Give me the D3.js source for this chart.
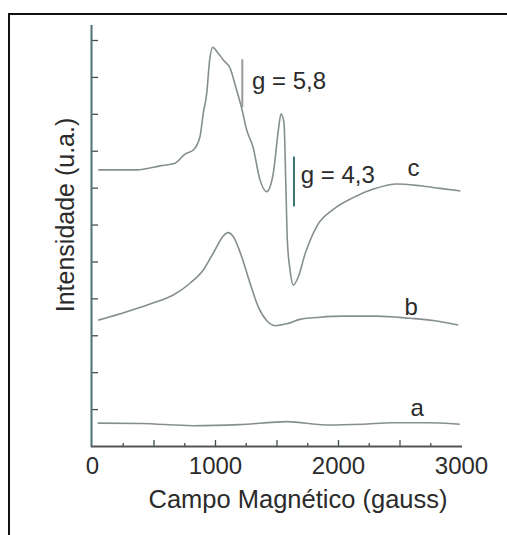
<!DOCTYPE html>
<html>
<head>
<meta charset="utf-8">
<script src="https://cdn.jsdelivr.net/npm/d3@7"></script>
<style>
  body { margin: 0; background: #fff; }
  text { font-family: "Liberation Sans", Arial, sans-serif; fill: #2b2b2b; }
</style>
</head>
<body>
<div id="chart"></div>
<script>
// spectra: [campo (gauss), intensidade (u.a.)]
var serieA = [[46,0.62],[400,0.61],[820,0.55],[1200,0.58],[1585,0.66],[1905,0.57],[2200,0.59],[2440,0.63],[2720,0.63],[2990,0.59]];
var serieB = [[51,3.41],[282,3.64],[472,3.85],[661,4.09],[797,4.41],[905,4.77],[1000,5.31],[1067,5.69],[1108,5.78],
  [1149,5.67],[1217,5.13],[1285,4.41],[1352,3.77],[1420,3.40],[1488,3.26],[1583,3.31],[1691,3.43],[1854,3.49],
  [2043,3.52],[2315,3.52],[2585,3.46],[2775,3.40],[2978,3.28]];
var serieC = [[51,7.48],[363,7.48],[553,7.59],[675,7.66],[756,7.91],[824,8.02],[878,8.38],[905,9.02],[933,9.56],
  [955,10.41],[981,10.80],[1024,10.65],[1067,10.46],[1122,10.24],[1171,9.70],[1217,9.15],[1258,8.56],[1309,8.10],
  [1366,7.21],[1420,6.89],[1474,7.39],[1515,8.56],[1537,9.00],[1561,8.75],[1577,6.94],[1588,5.58],[1610,4.77],
  [1637,4.36],[1678,4.59],[1732,5.20],[1829,5.96],[1962,6.41],[2124,6.73],[2287,6.96],[2477,7.10],[2667,7.05],
  [2829,6.98],[2995,6.91]];
var series = [
  {nome: "a", dados: serieA, rotulo: [2590, 0.8]},
  {nome: "b", dados: serieB, rotulo: [2540, 3.55]},
  {nome: "c", dados: serieC, rotulo: [2565, 7.31]}
];
// g-value markers: [campo, y0, y1], label position
var marcas = [
  {texto: "g = 5,8", linha: [1222, 9.18, 10.48], pos: [1301, 9.67], cor: "#999"},
  {texto: "g = 4,3", linha: [1642, 6.49, 7.84], pos: [1697, 7.12], cor: "#3b7373"}
];
var xTicksLabel = [0, 1000, 2000, 3000];

var W = 507, H = 535;
var svg = d3.select("#chart").append("svg")
  .attr("width", W).attr("height", H);

// outer frame (open to right/bottom as in the picture)
svg.append("rect")
  .attr("x", 9).attr("y", 14).attr("width", 520).attr("height", 540)
  .attr("fill", "none").attr("stroke", "#111").attr("stroke-width", 2);

var x = d3.scaleLinear().domain([0, 3000]).range([92, 461]);
var y = d3.scaleLinear().domain([0, 11]).range([446, 40]);

// x axis: minor/major ticks pointing inward, labels separately
svg.append("g").attr("transform", "translate(0,446)")
  .call(d3.axisBottom(x).tickValues(d3.range(250, 3000, 500)).tickSize(-3).tickFormat(""))
  .call(function(g) { g.select(".domain").remove(); });
svg.append("g").attr("transform", "translate(0,446)")
  .call(d3.axisBottom(x).tickValues(d3.range(500, 3000, 500)).tickSize(-6).tickFormat(""))
  .call(function(g) { g.select(".domain").remove(); });
svg.append("g").attr("transform", "translate(0,446)")
  .call(d3.axisBottom(x).tickValues(xTicksLabel).tickSize(0).tickPadding(11).tickFormat(d3.format("d")))
  .call(function(g) {
    g.select(".domain").remove();
    g.selectAll("text").style("font-size", "24px").attr("fill", "#2b2b2b");
  });
svg.selectAll(".tick line").attr("stroke", "#3f4f4f").attr("stroke-width", 1.3);

// y axis: ticks only
svg.append("g").attr("transform", "translate(92,0)")
  .call(d3.axisLeft(y).tickValues(d3.range(1, 12)).tickSize(-6).tickFormat(""))
  .call(function(g) {
    g.select(".domain").remove();
    g.selectAll("line").attr("stroke", "#3f4f4f").attr("stroke-width", 1.3);
  });

// axis lines
svg.append("line").attr("x1", 91.5).attr("x2", 91.5).attr("y1", 25).attr("y2", 447)
  .attr("stroke", "#4d7070").attr("stroke-width", 2);
svg.append("line").attr("x1", 91).attr("x2", 462).attr("y1", 446.5).attr("y2", 446.5)
  .attr("stroke", "#555").attr("stroke-width", 1.8);

// spectra
var linha = d3.line()
  .x(function(d) { return x(d[0]); })
  .y(function(d) { return y(d[1]); })
  .curve(d3.curveMonotoneX);

svg.append("g").selectAll("path")
  .data(series).enter().append("path")
  .attr("d", function(d) { return linha(d.dados); })
  .attr("fill", "none")
  .attr("stroke", "#858f8f")
  .attr("stroke-width", 1.6);

svg.append("g").selectAll("text")
  .data(series).enter().append("text")
  .attr("x", function(d) { return x(d.rotulo[0]); })
  .attr("y", function(d) { return y(d.rotulo[1]); })
  .style("font-size", "24px")
  .text(function(d) { return d.nome; });

// g markers
marcas.forEach(function(m) {
  svg.append("line")
    .attr("x1", x(m.linha[0])).attr("x2", x(m.linha[0]))
    .attr("y1", y(m.linha[1])).attr("y2", y(m.linha[2]))
    .attr("stroke", m.cor).attr("stroke-width", 2);
  svg.append("text")
    .attr("x", x(m.pos[0])).attr("y", y(m.pos[1]))
    .style("font-size", "24px")
    .text(m.texto);
});

// axis titles
svg.append("text")
  .attr("x", 298).attr("y", 508)
  .attr("text-anchor", "middle")
  .style("font-size", "25.5px")
  .text("Campo Magnético (gauss)");

svg.append("text")
  .attr("transform", "translate(74,215) rotate(-90)")
  .attr("text-anchor", "middle")
  .style("font-size", "25px")
  .text("Intensidade (u.a.)");
</script>
</body>
</html>
